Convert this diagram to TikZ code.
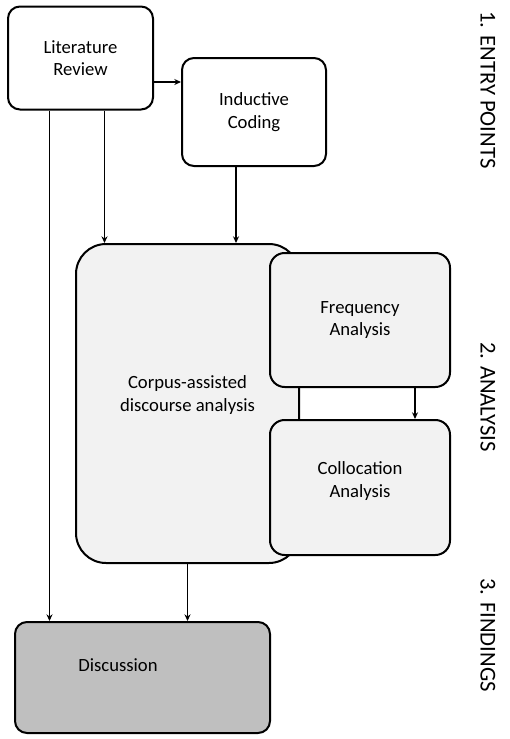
\documentclass[tikz,border=0pt]{standalone}
\usepackage{fontspec}
\setmainfont{Carlito}
\usetikzlibrary{arrows.meta}
\definecolor{analysisfill}{RGB}{242,242,242}
\definecolor{findingsfill}{RGB}{191,191,191}

\begin{document}
\begin{tikzpicture}[x=0.75pt, y=-0.75pt]
    \tikzstyle{stage} = [draw, line width=1.5pt, rounded corners=9pt, align=center, inner sep=0pt, font=\fontsize{14}{17}\selectfont]
    \tikzstyle{caption} = [align=center, font=\fontsize{14}{17}\selectfont]
    \tikzstyle{flow} = [line width=1.2pt, -{Stealth[length=5pt, width=4.5pt]}]
    \tikzstyle{phase} = [rotate=-90, font=\fontsize{17}{20}\selectfont]
    \useasboundingbox (0,0) rectangle (510,739);

    \node[stage, minimum width=108.75pt, minimum height=77.25pt] (litreview) at (80.5,58) {Literature\\Review};
    \node[stage, minimum width=108pt, minimum height=81pt] (inductive) at (254,112) {Inductive\\Coding};
    \node[stage, fill=analysisfill, rounded corners=22.5pt, minimum width=167.25pt, minimum height=239.25pt] (cada) at (187.5,403.5) {};
    \node[caption] (cadatext) at (187.5,395) {Corpus-assisted\\discourse analysis};
    \node[stage, fill=analysisfill, rounded corners=11pt, minimum width=135pt, minimum height=100.5pt] (frequency) at (360,320) {Frequency\\Analysis};
    \node[stage, fill=analysisfill, rounded corners=11pt, minimum width=135pt, minimum height=101.25pt] (collocation) at (360,487.5) {};
    \node[caption] (colltext) at (360,481) {Collocation\\Analysis};
    \node[stage, fill=findingsfill, minimum width=191.25pt, minimum height=83.25pt] (discussion) at (142.5,677.5) {};
    \node[caption] (disctext) at (118,665) {Discussion};

    \node[phase] (entry) at (488,90) {1. ENTRY POINTS};
    \node[phase] (analysis) at (488,397) {2. ANALYSIS};
    \node[phase] (findings) at (488,635) {3. FINDINGS};

    \coordinate (litright) at ([yshift=-18pt]litreview.east);
    \coordinate (litdownA) at ([xshift=18pt]litreview.south);
    \coordinate (litdownB) at ([xshift=-23.25pt]litreview.south);
    \coordinate (inddown) at ([xshift=-13.5pt]inductive.south);
    \coordinate (freqdown) at ([xshift=41.25pt]frequency.south);

    \draw[flow] (litright) -- (litright -| inductive.west);
    \draw[flow] (litdownA) -- (litdownA |- cada.north);
    \draw[flow] (litdownB) -- (litdownB |- discussion.north);
    \draw[flow] (inddown) -- (inddown |- cada.north);
    \draw[flow] (cada.south) -- (cada.south |- discussion.north);
    \draw[flow] (freqdown) -- (freqdown |- collocation.north);
\end{tikzpicture}
\end{document}
